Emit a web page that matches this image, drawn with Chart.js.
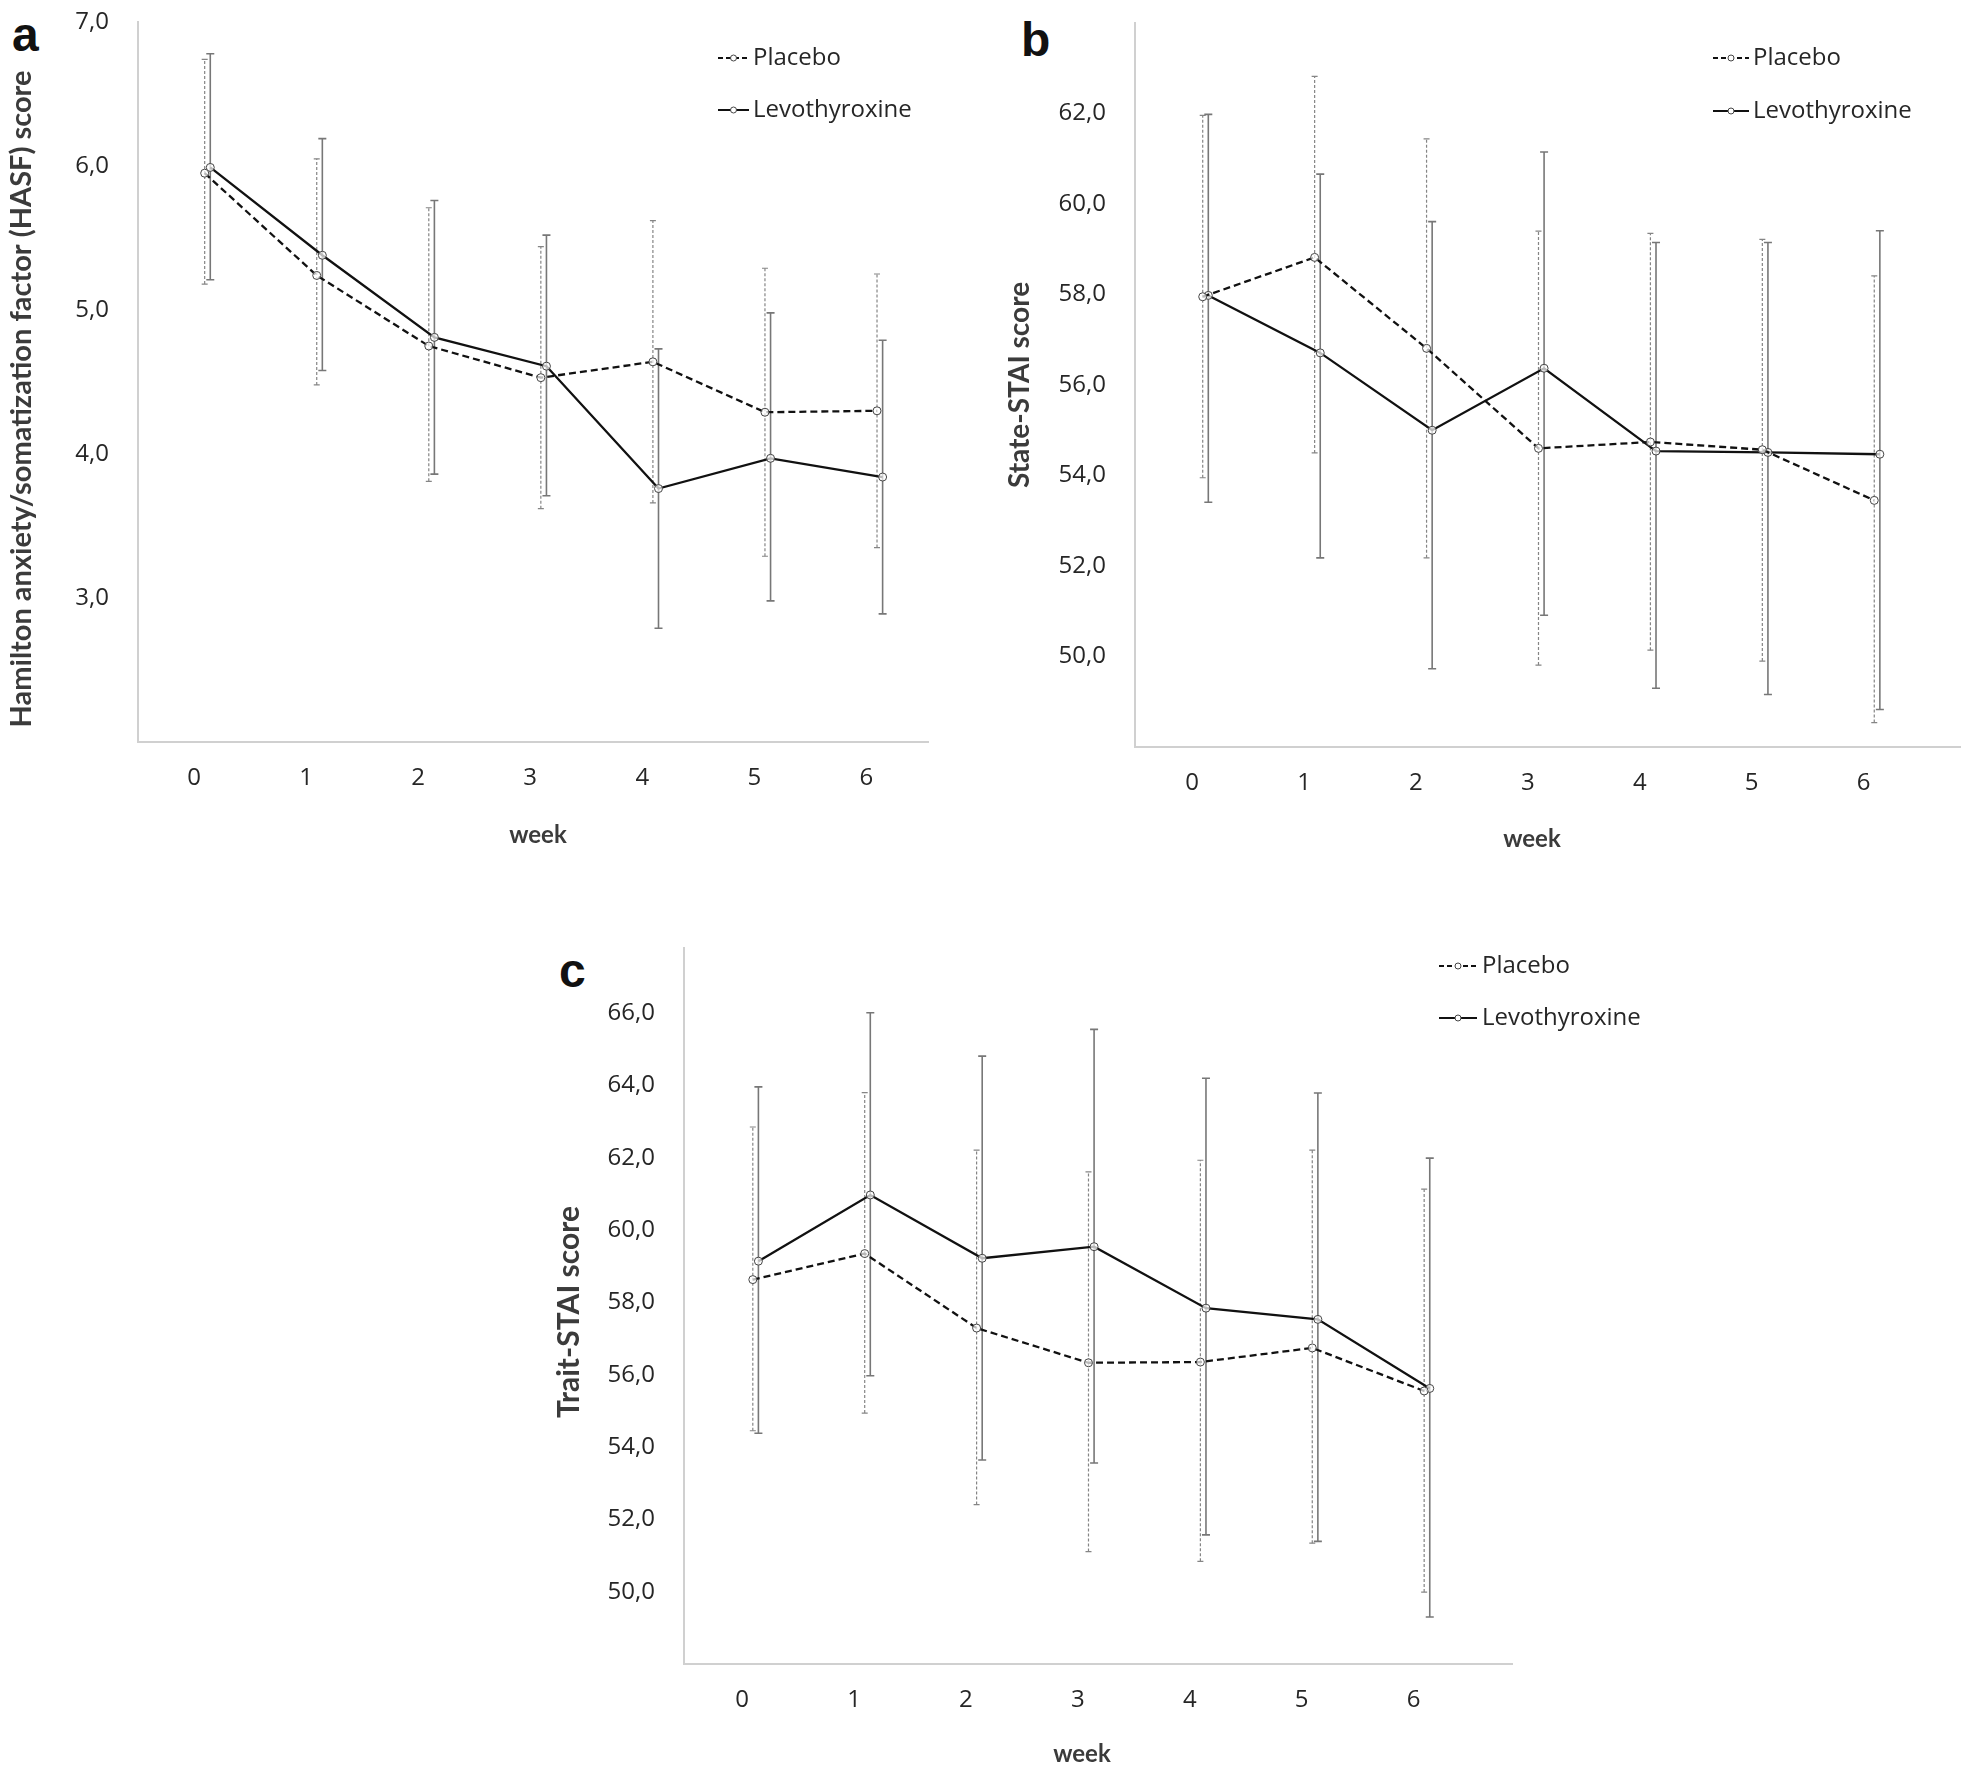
<!DOCTYPE html>
<html><head><meta charset="utf-8">
<script src="https://cdn.jsdelivr.net/npm/chart.js@4.4.1/dist/chart.umd.min.js"></script>
<style>
html,body{margin:0;padding:0;background:#fff;width:1961px;height:1770px;overflow:hidden;}
canvas{position:absolute;}
.letter{position:absolute;font-family:'Liberation Sans',Arial,sans-serif;font-weight:bold;font-size:48px;line-height:48px;color:#111;}
</style></head><body>
<div class="letter" style="left:12px;top:11px">a</div>
<div class="letter" style="left:1021px;top:16px">b</div>
<div class="letter" style="left:559px;top:947px">c</div>
<canvas id="ca" width="960" height="880" style="left:0;top:0"></canvas>
<canvas id="cb" width="961" height="880" style="left:1000px;top:0"></canvas>
<canvas id="cc" width="1150" height="870" style="left:550px;top:900px"></canvas>
<script>
// ---------- data ----------
const weeks = [0, 1, 2, 3, 4, 5, 6];
const seriesNames = ['Placebo', 'Levothyroxine'];
const xAxisTitle = 'week';

// Panel a: HASF score
const hasfPlacebo      = [5.95, 5.24, 4.75, 4.53, 4.64, 4.29, 4.30];
const hasfPlaceboLow   = [5.18, 4.48, 3.81, 3.62, 3.66, 3.29, 3.35];
const hasfPlaceboHigh  = [6.74, 6.05, 5.71, 5.44, 5.62, 5.29, 5.25];
const hasfLevo         = [5.99, 5.38, 4.81, 4.61, 3.76, 3.97, 3.84];
const hasfLevoLow      = [5.21, 4.58, 3.86, 3.71, 2.79, 2.98, 2.89];
const hasfLevoHigh     = [6.78, 6.19, 5.76, 5.52, 4.73, 4.98, 4.79];
const hasfTicks        = [3, 4, 5, 6, 7];

// Panel b: State-STAI score
const statePlacebo     = [57.95, 58.82, 56.81, 54.60, 54.74, 54.57, 53.45];
const statePlaceboLow  = [53.95, 54.50, 52.18, 49.81, 50.14, 49.90, 48.54];
const statePlaceboHigh = [61.96, 62.82, 61.44, 59.40, 59.35, 59.22, 58.41];
const stateLevo        = [57.98, 56.71, 55.00, 56.37, 54.54, 54.51, 54.47];
const stateLevoLow     = [53.41, 52.18, 49.73, 50.91, 49.30, 49.16, 48.83];
const stateLevoHigh    = [61.98, 60.66, 59.61, 61.15, 59.15, 59.15, 59.41];
const stateTicks       = [50, 52, 54, 56, 58, 60, 62];

// Panel c: Trait-STAI score
const traitPlacebo     = [58.63, 59.35, 57.29, 56.33, 56.35, 56.74, 55.55];
const traitPlaceboLow  = [54.45, 54.94, 52.41, 51.11, 50.84, 51.34, 49.99];
const traitPlaceboHigh = [62.85, 63.80, 62.21, 61.61, 61.93, 62.21, 61.13];
const traitLevo        = [59.14, 60.97, 59.22, 59.54, 57.84, 57.53, 55.62];
const traitLevoLow     = [54.38, 55.97, 53.64, 53.56, 51.57, 51.39, 49.30];
const traitLevoHigh    = [63.96, 66.01, 64.81, 65.55, 64.20, 63.79, 61.99];
const traitTicks       = [50, 52, 54, 56, 58, 60, 62, 64, 66];

// ---------- styling ----------
const xShiftPlacebo = 0.095, xShiftLevo = 0.145;
const tickFont = {family: "'Open Sans', sans-serif", size: 24};
const xTitleFontCss = "bold 24px Lato, sans-serif";
const tickColor = '#262626', titleColor = '#3b3b3b', axisColor = '#d0d0d0';
const fmt = v => v.toFixed(1).replace('.', ',');

const errorBars = {
  id: 'errorBars',
  beforeDatasetsDraw(chart) {
    const {ctx} = chart, y = chart.scales.y;
    chart.data.datasets.forEach((ds, i) => {
      const meta = chart.getDatasetMeta(i);
      ctx.save();
      ds.errLow.forEach((lo, j) => {
        const px = meta.data[j].x;
        const yl = y.getPixelForValue(lo), yh = y.getPixelForValue(ds.errHigh[j]);
        ctx.strokeStyle = ds.errColor; ctx.lineWidth = ds.errWidth;
        ctx.setLineDash(ds.errDash);
        ctx.beginPath(); ctx.moveTo(px, yl); ctx.lineTo(px, yh); ctx.stroke();
        ctx.setLineDash([]);
        ctx.beginPath();
        ctx.moveTo(px - ds.errCap, yl); ctx.lineTo(px + ds.errCap, yl);
        ctx.moveTo(px - ds.errCap, yh); ctx.lineTo(px + ds.errCap, yh);
        ctx.stroke();
      });
      ctx.restore();
    });
  }
};

const customLegend = {
  id: 'customLegend',
  afterDraw(chart, args, opts) {
    const {ctx, chartArea} = chart;
    ctx.save();
    chart.data.datasets.forEach((ds, i) => {
      const yy = opts.rows[i];
      ctx.strokeStyle = '#111'; ctx.lineWidth = 2;
      ctx.setLineDash(ds.borderDash.length ? [5, 3] : []);
      ctx.beginPath(); ctx.moveTo(opts.x0, yy); ctx.lineTo(opts.x1, yy); ctx.stroke();
      ctx.setLineDash([]);
      ctx.beginPath(); ctx.arc((opts.x0 + opts.x1) / 2, yy, 3, 0, Math.PI * 2);
      ctx.fillStyle = '#fff'; ctx.fill();
      ctx.lineWidth = 1; ctx.strokeStyle = '#444'; ctx.stroke();
      ctx.fillStyle = tickColor;
      ctx.font = `${tickFont.size}px ${tickFont.family}`;
      ctx.textBaseline = 'middle'; ctx.textAlign = 'left';
      ctx.fillText(ds.label, opts.xText, yy);
    });
    // axis titles
    ctx.fillStyle = titleColor;
    ctx.textAlign = 'center'; ctx.textBaseline = 'middle';
    ctx.font = xTitleFontCss;
    ctx.fillText(xAxisTitle, (chartArea.left + chartArea.right) / 2 + opts.xTitleShift, opts.xTitleY);
    ctx.font = `bold ${opts.yTitleSize}px Lato, sans-serif`;
    ctx.translate(opts.yTitleX, (chartArea.top + chartArea.bottom) / 2 + opts.yTitleShift);
    ctx.rotate(-Math.PI / 2);
    ctx.fillText(opts.yTitle, 0, 0);
    ctx.restore();
  }
};

function makeDataset(label, vals, lo, hi, shift, dashed) {
  return {
    label,
    data: weeks.map((w, i) => ({x: w + shift, y: vals[i]})),
    errLow: lo, errHigh: hi,
    errColor: dashed ? '#858585' : '#777777',
    errWidth: dashed ? 1.2 : 1.6,
    errDash: dashed ? [3, 2] : [],
    errCap: dashed ? 3 : 4,
    borderColor: '#111', borderWidth: 2.3,
    borderDash: dashed ? [7, 4] : [],
    pointRadius: 4, pointBorderWidth: 1, pointBorderColor: '#444',
    pointBackgroundColor: 'rgba(255,255,255,0.7)',
    tension: 0, fill: false
  };
}

function makeChart(id, cfg) {
  return new Chart(document.getElementById(id), {
    type: 'line',
    data: {datasets: [
      makeDataset(seriesNames[0], cfg.p, cfg.pl, cfg.ph, xShiftPlacebo, true),
      makeDataset(seriesNames[1], cfg.l, cfg.ll, cfg.lh, xShiftLevo, false)
    ]},
    options: {
      responsive: false, animation: false, devicePixelRatio: 1,
      layout: {autoPadding: false, padding: {top: cfg.padTop, right: cfg.padRight, left: 0, bottom: 0}},
      plugins: {legend: {display: false}, tooltip: {enabled: false}, customLegend: cfg.legend},
      scales: {
        x: {
          type: 'linear', min: cfg.xMin, max: cfg.xMax,
          grid: {display: false},
          border: {display: true, color: axisColor, width: 2},
          afterBuildTicks: s => { s.ticks = weeks.map(v => ({value: v})); },
          afterFit: s => { s.height = cfg.xHeight; s.paddingLeft = 0; s.paddingRight = 0; },
          ticks: {font: tickFont, color: tickColor, padding: 14, maxRotation: 0, callback: v => String(v)},
          title: {display: false}
        },
        y: {
          type: 'linear', min: cfg.yMin, max: cfg.yMax,
          grid: {display: false},
          border: {display: true, color: axisColor, width: 2},
          afterBuildTicks: s => { s.ticks = cfg.yTicks.map(v => ({value: v})); },
          afterFit: s => { s.width = cfg.yWidth; s.paddingTop = 0; s.paddingBottom = 0; },
          ticks: {font: tickFont, color: tickColor, padding: 21, callback: v => fmt(v)},
          title: {display: false}
        }
      }
    },
    plugins: [errorBars, customLegend]
  });
}

makeChart('ca', {
  p: hasfPlacebo, pl: hasfPlaceboLow, ph: hasfPlaceboHigh,
  l: hasfLevo, ll: hasfLevoLow, lh: hasfLevoHigh,
  yMin: 2, yMax: 7, yTicks: hasfTicks, xMin: -0.5, xMax: 6.55,
  padTop: 22, padRight: 32, yWidth: 138, xHeight: 138,
  legend: {x0: 718, x1: 749, xText: 753, rows: [58, 110], xTitleY: 835, xTitleShift: 5,
           yTitle: 'Hamilton anxiety/somatization factor (HASF) score', yTitleX: 22, yTitleShift: 17, yTitleSize: 29}
});
makeChart('cb', {
  p: statePlacebo, pl: statePlaceboLow, ph: statePlaceboHigh,
  l: stateLevo, ll: stateLevoLow, lh: stateLevoHigh,
  yMin: 48, yMax: 64, yTicks: stateTicks, xMin: -0.51, xMax: 6.87,
  padTop: 23, padRight: 0, yWidth: 135, xHeight: 133,
  legend: {x0: 713, x1: 749, xText: 753, rows: [58, 111], xTitleY: 839, xTitleShift: -16,
           yTitle: 'State-STAI score', yTitleX: 20, yTitleShift: 0, yTitleSize: 28}
});
makeChart('cc', {
  p: traitPlacebo, pl: traitPlaceboLow, ph: traitPlaceboHigh,
  l: traitLevo, ll: traitLevoLow, lh: traitLevoHigh,
  yMin: 48, yMax: 67.8, yTicks: traitTicks, xMin: -0.52, xMax: 6.88,
  padTop: 48, padRight: 188, yWidth: 134, xHeight: 106,
  legend: {x0: 889, x1: 927, xText: 932, rows: [66, 118], xTitleY: 854, xTitleShift: -16,
           yTitle: 'Trait-STAI score', yTitleX: 19, yTitleShift: 6, yTitleSize: 30}
});
</script>
</body></html>
